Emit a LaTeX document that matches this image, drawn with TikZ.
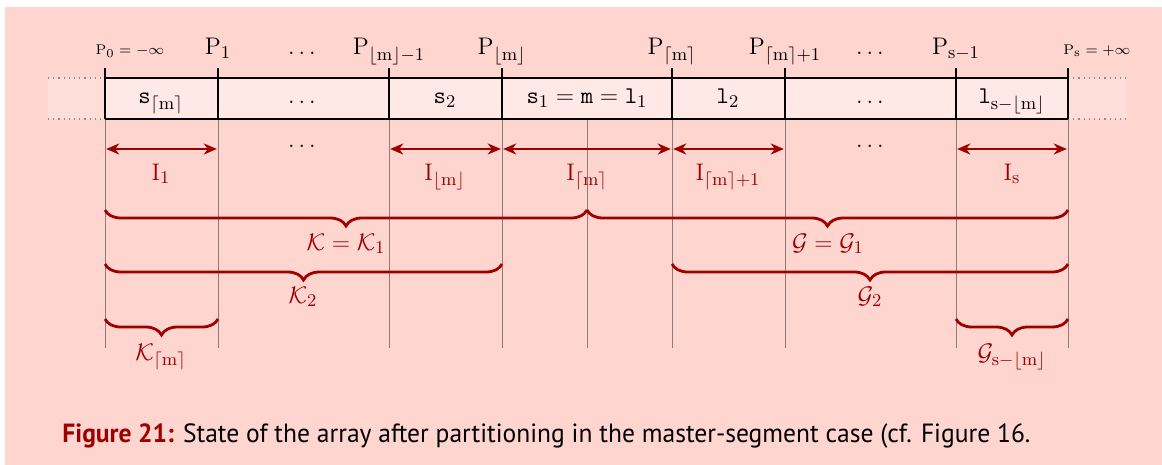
\documentclass[tikz,border=0pt]{standalone}
\usepackage[no-math]{fontspec}
\setmainfont{PT Sans}
\usetikzlibrary{arrows.meta,decorations.pathreplacing}
\DeclareMathSizes{12}{12}{9.5}{7.5}
\DeclareMathSizes{7.5}{7.5}{6}{5}
\definecolor{bgpink}{RGB}{255,213,208}
\definecolor{cellpink}{RGB}{255,232,230}
\definecolor{extpink}{RGB}{255,222,218}
\definecolor{dred}{RGB}{158,0,0}
\definecolor{vgray}{RGB}{145,122,122}
\newcommand{\mfl}{\lfloor\mathrm{m}\rfloor}
\newcommand{\mcl}{\lceil\mathrm{m}\rceil}
\tikzset{
  mathlab/.style={anchor=base,inner sep=0pt,font=\fontsize{12}{14}\selectfont},
  smalllab/.style={anchor=base,inner sep=0pt,font=\fontsize{7.5}{9}\selectfont},
  redlab/.style={mathlab,text=dred},
  iarrow/.style={draw=dred,line width=1.1pt,{Stealth[length=6.5pt,width=5.5pt,inset=2pt]}-{Stealth[length=6.5pt,width=5.5pt,inset=2pt]},shorten <=0.6pt,shorten >=0.6pt},
  kbrace/.style={draw=dred,line width=1.4pt,decorate,decoration={brace,mirror,amplitude=8pt}},
  vline/.style={draw=vgray,line width=0.5pt},
  bline/.style={draw=black,line width=0.9pt},
  dotline/.style={draw=black!45,line width=0.6pt,dotted}
}
\begin{document}
\begin{tikzpicture}[x=0.5pt,y=-0.5pt]
\useasboundingbox (0,0) rectangle (1162,465);
\fill[white] (0,0) rectangle (1162,465);
\fill[bgpink] (5,7) rectangle (1162,465);
\foreach \n/\x in {a0/105,a1/218,a2/389,a3/502,am/587,a4/672,a5/785,a6/956,a7/1068}{
  \coordinate (\n-top) at (\x,68);
  \coordinate (\n-up) at (\x,78);
  \coordinate (\n-bot) at (\x,119);
  \coordinate (\n-end) at (\x,348);
  \coordinate (\n-arr) at (\x,149);
  \coordinate (\n-b1) at (\x,210);
  \coordinate (\n-b2) at (\x,264);
  \coordinate (\n-b3) at (\x,319);
}
\coordinate (lx-up) at (48,78);
\coordinate (lx-bot) at (48,119);
\coordinate (rx-up) at (1127,78);
\coordinate (rx-bot) at (1127,119);
% array fills
\fill[extpink] (lx-up) rectangle (a0-bot);
\fill[extpink] (a7-up) rectangle (rx-bot);
\fill[cellpink] (a0-up) rectangle (a7-bot);
\draw[dotline] (lx-up) -- (a0-up);
\draw[dotline] (lx-bot) -- (a0-bot);
\draw[dotline] (a7-up) -- (rx-up);
\draw[dotline] (a7-bot) -- (rx-bot);
% gray guide lines
\foreach \n in {a0,a1,a2,a3,am,a4,a5,a6,a7}{
  \draw[vline] (\n-bot) -- (\n-end);
}
% black cell borders
\draw[bline] (a0-up) -- (a7-up);
\draw[bline] (a0-bot) -- (a7-bot);
\foreach \n in {a0,a1,a2,a3,a4,a5,a6,a7}{
  \draw[bline] (\n-top) -- (\n-bot);
}
% top labels
\node[smalllab] (p0) at (130,55) {$\mathrm{P}_0=-\infty$};
\node[mathlab] (p1) at (218,55) {$\mathrm{P}_1$};
\node[mathlab] (pd1) at (302,55) {$\dots$};
\node[mathlab] (p2) at (389,55) {$\mathrm{P}_{\mfl-1}$};
\node[mathlab] (p3) at (502,55) {$\mathrm{P}_{\mfl}$};
\node[mathlab] (p4) at (672,55) {$\mathrm{P}_{\mcl}$};
\node[mathlab] (p5) at (785,55) {$\mathrm{P}_{\mcl+1}$};
\node[mathlab] (pd2) at (870,55) {$\dots$};
\node[mathlab] (p6) at (956,55) {$\mathrm{P}_{\mathrm{s}-1}$};
\node[smalllab] (p7) at (1097,55) {$\mathrm{P}_{\mathrm{s}}=+\infty$};
% cell contents
\node[mathlab] (c1) at (161,104) {$\mathtt{s}_{\mcl}$};
\node[mathlab] (c2) at (302,104) {$\dots$};
\node[mathlab] (c3) at (445,104) {$\mathtt{s}_2$};
\node[mathlab] (c4) at (587,104) {$\mathtt{s}_1=\mathtt{m}=\mathtt{l}_1$};
\node[mathlab] (c5) at (728,104) {$\mathtt{l}_2$};
\node[mathlab] (c6) at (870,104) {$\dots$};
\node[mathlab] (c7) at (1012,104) {$\mathtt{l}_{\mathrm{s}-\mfl}$};
% interval arrows
\draw[iarrow] (a0-arr) -- (a1-arr);
\draw[iarrow] (a2-arr) -- (a3-arr);
\draw[iarrow] (a3-arr) -- (a4-arr);
\draw[iarrow] (a4-arr) -- (a5-arr);
\draw[iarrow] (a6-arr) -- (a7-arr);
\node[mathlab] (idots1) at (302,148) {$\dots$};
\node[mathlab] (idots2) at (870,148) {$\dots$};
\node[redlab] (i1) at (161,180) {$\mathrm{I}_1$};
\node[redlab] (i2) at (445,180) {$\mathrm{I}_{\mfl}$};
\node[redlab] (i3) at (587,180) {$\mathrm{I}_{\mcl}$};
\node[redlab] (i4) at (728,180) {$\mathrm{I}_{\mcl+1}$};
\node[redlab] (i5) at (1012,180) {$\mathrm{I}_{\mathrm{s}}$};
% braces
\draw[kbrace] (a0-b1) -- (am-b1);
\draw[kbrace] (am-b1) -- (a7-b1);
\draw[kbrace] (a0-b2) -- (a3-b2);
\draw[kbrace] (a4-b2) -- (a7-b2);
\draw[kbrace] (a0-b3) -- (a1-b3);
\draw[kbrace] (a6-b3) -- (a7-b3);
\node[redlab] (k1) at (346,250) {$\mathcal{K}=\mathcal{K}_1$};
\node[redlab] (g1) at (828,250) {$\mathcal{G}=\mathcal{G}_1$};
\node[redlab] (k2) at (303,303) {$\mathcal{K}_2$};
\node[redlab] (g2) at (870,303) {$\mathcal{G}_2$};
\node[redlab] (k3) at (161,360) {$\mathcal{K}_{\mcl}$};
\node[redlab] (g3) at (1012,360) {$\mathcal{G}_{\mathrm{s}-\mfl}$};
% caption
\node[anchor=base west,inner sep=0pt] (cap) at (62,442) {\resizebox{484pt}{9.4pt}{\fontsize{11}{13}\selectfont{\color{dred}\bfseries Figure 21:} State of the array after partitioning in the master-segment case (cf. Figure 16.}};
\end{tikzpicture}
\end{document}
